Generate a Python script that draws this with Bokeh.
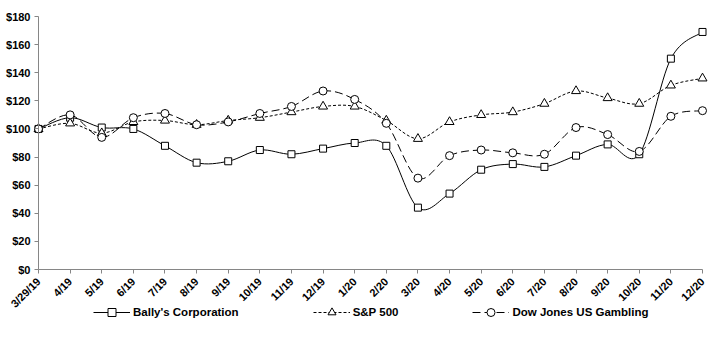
import math
from bokeh.plotting import figure
from bokeh.models import (ColumnDataSource, Range1d, FixedTicker, NumeralTickFormatter,
                          Legend, LegendItem)
from bokeh.embed import file_html
from bokeh.resources import INLINE

dates = ["3/29/19", "4/19", "5/19", "6/19", "7/19", "8/19", "9/19", "10/19", "11/19", "12/19",
         "1/20", "2/20", "3/20", "4/20", "5/20", "6/20", "7/20", "8/20", "9/20", "10/20",
         "11/20", "12/20"]
ballys = [100, 108, 101, 100, 88, 76, 77, 85, 82, 86, 90, 88, 44, 54, 71, 75, 73, 81, 89, 82, 150, 169]
sp500 = [100, 104, 97, 105, 106, 103, 106, 108, 112, 116, 116, 106, 93, 105, 110, 112, 118, 127, 122, 118, 131, 136]
dowjones = [100, 110, 94, 108, 111, 103, 105, 111, 116, 127, 121, 104, 65, 81, 85, 83, 82, 101, 96, 84, 109, 113]
y_ticks = list(range(0, 181, 20))

FONT = "Liberation Sans"
xs = list(range(len(dates)))
N = len(dates) - 1
Y_MAX = 180

# The frame covers the whole 717x354 canvas; axes are pinned at x=0 / y=0.
# plot area: first date at 38px, last at 702px; $180 at 16px, $0 at 269px
W, H = 717, 354
X0PX, X1PX, YTOPPX, Y0PX = 38, 702, 16, 269
xpx = (X1PX - X0PX) / N
ypx = (Y0PX - YTOPPX) / Y_MAX
x_range = Range1d(-X0PX / xpx, N + (W - X1PX) / xpx)
y_range = Range1d(-(H - Y0PX) / ypx, Y_MAX + YTOPPX / ypx)

p = figure(width=W, height=H, output_backend="svg", toolbar_location=None,
           x_range=x_range, y_range=y_range,
           min_border_left=0, min_border_right=0, min_border_top=0, min_border_bottom=0)
p.outline_line_color = None
p.xgrid.visible = False
p.ygrid.visible = False
p.background_fill_color = "white"
p.border_fill_color = "white"

for ax in (p.xaxis, p.yaxis):
    ax.axis_line_color = "#868686"
    ax.major_tick_line_color = "#868686"
    ax.minor_tick_line_color = None
    ax.major_tick_in = 0
    ax.major_tick_out = 4
    ax.major_label_text_font = FONT
    ax.major_label_text_font_style = "bold"
    ax.major_label_text_font_size = "11px"
    ax.major_label_text_color = "black"

p.yaxis.ticker = FixedTicker(ticks=y_ticks)
p.yaxis.formatter = NumeralTickFormatter(format="$0")
p.yaxis.major_label_standoff = 4
p.yaxis.bounds = (0, Y_MAX)
p.yaxis.fixed_location = 0
p.xaxis.ticker = FixedTicker(ticks=xs)
p.xaxis.major_label_overrides = {i: d for i, d in enumerate(dates)}
p.xaxis.major_label_orientation = math.pi / 4
p.xaxis.major_label_standoff = 6
p.xaxis.bounds = (0, N)
p.xaxis.fixed_location = 0


def smooth_source(ys):
    n = len(ys)
    d = dict(x0=[], y0=[], x1=[], y1=[], cx0=[], cy0=[], cx1=[], cy1=[])
    for i in range(n - 1):
        pm = (xs[max(i - 1, 0)], ys[max(i - 1, 0)])
        p0 = (xs[i], ys[i])
        p1 = (xs[i + 1], ys[i + 1])
        pp = (xs[min(i + 2, n - 1)], ys[min(i + 2, n - 1)])
        d["x0"].append(p0[0]); d["y0"].append(p0[1])
        d["x1"].append(p1[0]); d["y1"].append(p1[1])
        d["cx0"].append(p0[0] + (p1[0] - pm[0]) / 6); d["cy0"].append(p0[1] + (p1[1] - pm[1]) / 6)
        d["cx1"].append(p1[0] - (pp[0] - p0[0]) / 6); d["cy1"].append(p1[1] - (pp[1] - p0[1]) / 6)
    return ColumnDataSource(d)


series = [
    ("Bally's Corporation", ballys, "solid", "square", 7),
    ("S&P 500", sp500, "3 2", "triangle", 9),
    ("Dow Jones US Gambling", dowjones, "8 4", "circle", 8),
]

items = []
for name, ys, dash, marker, size in series:
    src = smooth_source(ys)
    r_line = p.bezier(x0="x0", y0="y0", x1="x1", y1="y1", cx0="cx0", cy0="cy0",
                      cx1="cx1", cy1="cy1", source=src, line_color="black",
                      line_width=1, line_dash=dash)
    r_pts = p.scatter(x=xs, y=ys, marker=marker, size=size, fill_color="white",
                      line_color="black", line_width=1)
    items.append(LegendItem(label=name, renderers=[r_line, r_pts]))

legend = Legend(items=items, orientation="horizontal", location=(93, 32),
                padding=0, margin=0, spacing=74, glyph_width=37, glyph_height=20,
                label_standoff=3, border_line_color=None, background_fill_alpha=0,
                label_text_font=FONT, label_text_font_style="bold",
                label_text_font_size="11.5px", label_text_color="black")
p.add_layout(legend, "center")

open("out.html", "w").write(file_html(p, INLINE))
